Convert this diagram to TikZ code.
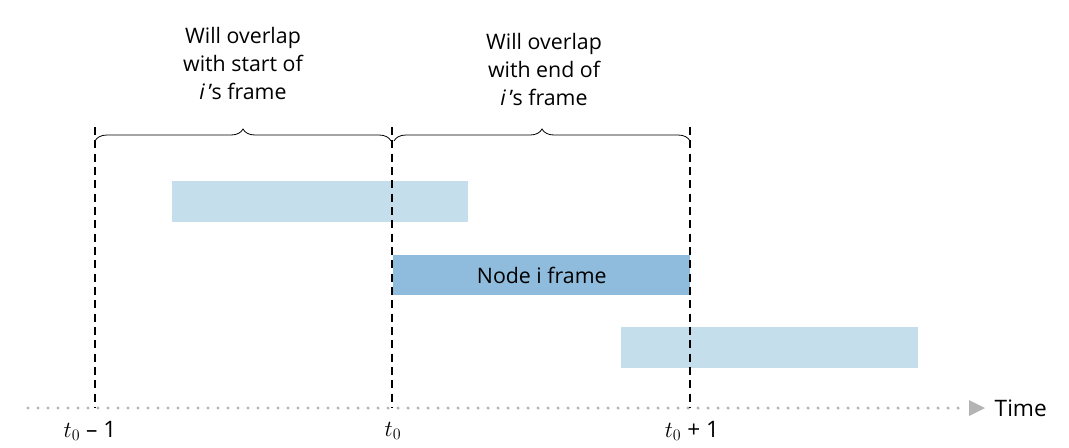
\documentclass[tikz,border=0pt]{standalone}
\usepackage{fontspec}
\setmainfont{Open Sans}
\usetikzlibrary{decorations.pathreplacing}
\definecolor{lb}{HTML}{C5DEEC}
\definecolor{db}{HTML}{8FBCDC}
\definecolor{ax}{HTML}{B4B4B4}
\begin{document}
\begin{tikzpicture}[x=0.75pt,y=-0.75pt,
  lbl/.style={align=center,font=\fontsize{16}{21}\selectfont},
  tick/.style={font=\fontsize{17}{20}\selectfont},
  vdash/.style={line width=0.9pt,dash pattern=on 6pt off 4pt},
  br/.style={decorate,decoration={brace,amplitude=9pt},line width=0.6pt}]
\useasboundingbox (0,0) rectangle (1069,447);
\draw[ax,line width=2.6pt,line cap=round,dash pattern=on 0pt off 7.5pt] (28,408) -- (962,408);
\fill[ax] (969,400) -- (985,408) -- (969,416) -- cycle;
\node[tick,anchor=west] (time) at (990,408) {Time};
\fill[lb] (172,181) rectangle (468,222);
\node[fill=db,minimum width=297*0.75pt,minimum height=40*0.75pt,inner sep=0,anchor=north west,font=\fontsize{16}{20}\selectfont] (ni) at (393,255) {Node i frame};
\fill[lb] (621,327) rectangle (918,368);
\foreach \x/\n in {95/a,392/b,690/c}{
  \coordinate (\n t) at (\x,127);
  \coordinate (\n b) at (\x,408);
  \draw[vdash] (\n t) -- (\n b);}
\draw[br] (95,141) -- (391,141);
\draw[br] (394,141) -- (690,141);
\node[lbl] (l1) at (243,63) {Will overlap\\with start of\\\textit{i}\,’s frame};
\node[lbl] (l2) at (544,69) {Will overlap\\with end of\\\textit{i}\,’s frame};
\node[tick] (t1) at (90,431) {$t_0$ – 1};
\node[tick] (t2) at (393,431) {$t_0$};
\node[tick] (t3) at (692,431) {$t_0$ + 1};
\end{tikzpicture}
\end{document}
